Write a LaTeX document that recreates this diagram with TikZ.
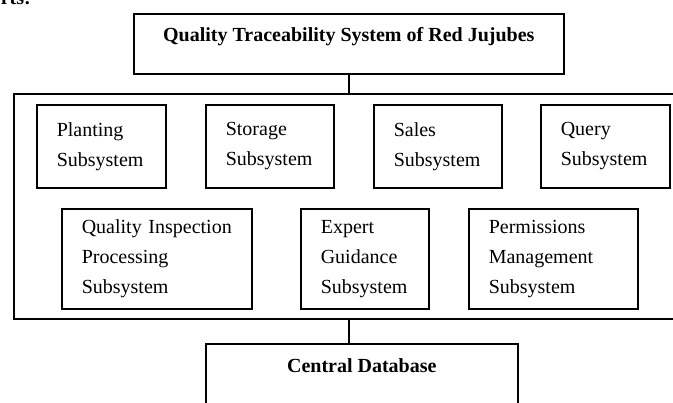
\documentclass[tikz,border=0pt]{standalone}
\usepackage{fontspec}
\setmainfont{Liberation Serif}
\usetikzlibrary{positioning}

\begin{document}
\begin{tikzpicture}[x=1pt, y=-1pt, line width=1.6pt,
  font={\fontsize{20pt}{30pt}\selectfont},
  box/.style={draw, rectangle, anchor=north west},
  subbox/.style={box, align=left, inner xsep=20pt, text width=#1},
  headbox/.style={box, align=center, font={\fontsize{20pt}{30pt}\selectfont\bfseries},
    text height=14pt}]

% frame
\useasboundingbox (0,0) rectangle (673,403);
\clip (0,0) rectangle (673,403);

% end of the line above the figure
\node[anchor=base west, inner sep=0, font={\fontsize{20pt}{30pt}\selectfont\bfseries}]
  (lead) at (0,5) {rts:};

% top and bottom
\node[headbox, minimum width=430pt, minimum height=60pt, text depth=18pt]
  (title) at (133,13) {Quality Traceability System of Red Jujubes};
\node[box, minimum width=677pt, minimum height=225pt] (panel) at (13,93) {};
\node[headbox, minimum width=312pt, minimum height=66pt, text depth=22pt]
  (database) at (205,343) {Central Database};

% first row
\node[subbox=89pt, minimum height=83pt] (planting) at (36,104) {Planting\\Subsystem};
\node[subbox=88pt, minimum height=83pt] (storage) at (205,104) {Storage\\Subsystem};
\node[subbox=88pt, minimum height=83pt] (sales) at (373,104) {Sales\\Subsystem};
\node[subbox=89pt, minimum height=83pt] (query) at (540,104) {Query\\Subsystem};

% second row
\node[subbox=150pt, minimum height=100pt] (inspection) at (61,208)
  {\mbox{Quality Inspection}\\Processing\\Subsystem};
\node[subbox=88pt, minimum height=100pt] (expert) at (300,208)
  {Expert\\Guidance\\Subsystem};
\node[subbox=129pt, minimum height=100pt] (permissions) at (468,208)
  {Permissions\\Management\\Subsystem};

% links
\draw (title.south) -- (panel.north -| title.south);
\draw (panel.south -| title.south) -- (database.north -| title.south);

\end{tikzpicture}
\end{document}
